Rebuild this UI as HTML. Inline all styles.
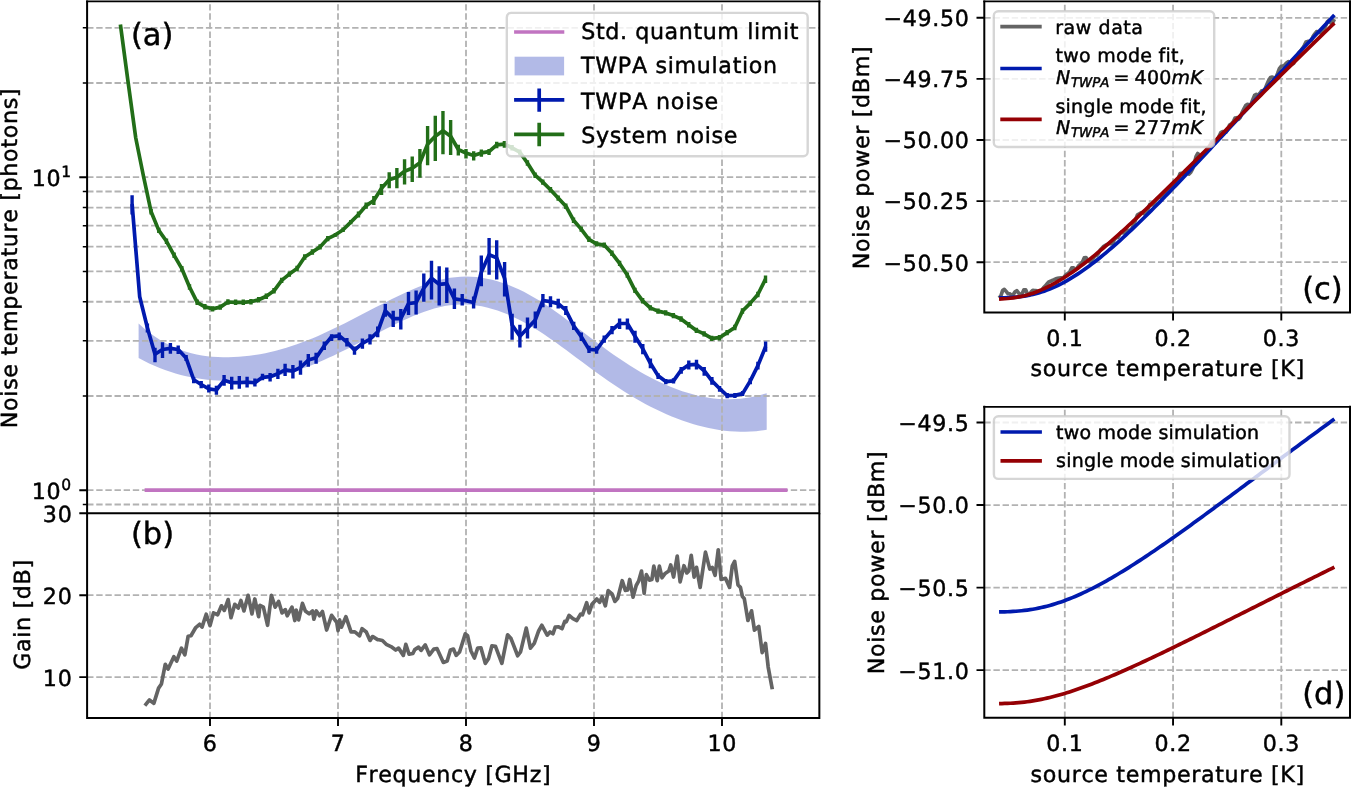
<!DOCTYPE html>
<html lang="en"><head><meta charset="utf-8"><title>TWPA noise temperature</title>
<style>html,body{margin:0;padding:0;background:#fff}body{width:1351px;height:787px;overflow:hidden}svg{display:block}text{font-kerning:none;text-rendering:geometricPrecision}</style>
</head><body>
<svg width="1351" height="787" viewBox="0 0 1351 787">
<path d="M138.6 323.58 L143.88 328.23 L149.16 332.46 L154.43 336.29 L159.71 339.73 L164.99 342.81 L170.27 345.54 L175.55 347.93 L180.83 350 L186.1 351.78 L191.38 353.28 L196.66 354.5 L201.94 355.49 L207.22 356.24 L212.49 356.77 L217.77 357.11 L223.05 357.27 L228.33 357.27 L233.61 357.11 L238.88 356.81 L244.16 356.36 L249.44 355.76 L254.72 355.03 L260 354.15 L265.28 353.14 L270.55 351.99 L275.83 350.7 L281.11 349.29 L286.39 347.74 L291.67 346.07 L296.94 344.27 L302.22 342.35 L307.5 340.31 L312.78 338.16 L318.06 335.9 L323.34 333.55 L328.61 331.11 L333.89 328.6 L339.17 326.03 L344.45 323.4 L349.73 320.74 L355 318.04 L360.28 315.31 L365.56 312.58 L370.84 309.84 L376.12 307.11 L381.39 304.4 L386.67 301.71 L391.95 299.07 L397.23 296.47 L402.51 293.96 L407.79 291.53 L413.06 289.22 L418.34 287.04 L423.62 285.01 L428.9 283.16 L434.18 281.49 L439.45 280.04 L444.73 278.82 L450.01 277.85 L455.29 277.14 L460.57 276.72 L465.85 276.58 L471.12 276.71 L476.4 277.11 L481.68 277.77 L486.96 278.69 L492.24 279.86 L497.51 281.28 L502.79 282.94 L508.07 284.83 L513.35 286.95 L518.63 289.3 L523.91 291.87 L529.18 294.65 L534.46 297.63 L539.74 300.83 L545.02 304.21 L550.3 307.76 L555.57 311.46 L560.85 315.27 L566.13 319.18 L571.41 323.16 L576.69 327.18 L581.96 331.21 L587.24 335.25 L592.52 339.25 L597.8 343.21 L603.08 347.12 L608.36 350.95 L613.63 354.7 L618.91 358.34 L624.19 361.86 L629.47 365.26 L634.75 368.52 L640.02 371.65 L645.3 374.64 L650.58 377.48 L655.86 380.17 L661.14 382.71 L666.42 385.08 L671.69 387.29 L676.97 389.33 L682.25 391.19 L687.53 392.87 L692.81 394.37 L698.08 395.67 L703.36 396.78 L708.64 397.69 L713.92 398.4 L719.2 398.9 L724.47 399.18 L729.75 399.25 L735.03 399.08 L740.31 398.69 L745.59 398.07 L750.87 397.21 L756.14 396.1 L761.42 394.75 L766.7 393.14 L766.7 429.84 L761.42 430.59 L756.14 431.14 L750.87 431.51 L745.59 431.69 L740.31 431.7 L735.03 431.52 L729.75 431.17 L724.47 430.64 L719.2 429.94 L713.92 429.08 L708.64 428.05 L703.36 426.86 L698.08 425.51 L692.81 424.01 L687.53 422.35 L682.25 420.54 L676.97 418.58 L671.69 416.48 L666.42 414.23 L661.14 411.85 L655.86 409.33 L650.58 406.67 L645.3 403.88 L640.02 400.97 L634.75 397.92 L629.47 394.76 L624.19 391.47 L618.91 388.07 L613.63 384.56 L608.36 380.95 L603.08 377.25 L597.8 373.47 L592.52 369.64 L587.24 365.75 L581.96 361.83 L576.69 357.88 L571.41 353.94 L566.13 350.02 L560.85 346.15 L555.57 342.35 L550.3 338.64 L545.02 335.05 L539.74 331.59 L534.46 328.3 L529.18 325.17 L523.91 322.23 L518.63 319.48 L513.35 316.93 L508.07 314.59 L502.79 312.46 L497.51 310.57 L492.24 308.9 L486.96 307.49 L481.68 306.33 L476.4 305.43 L471.12 304.8 L465.85 304.46 L460.57 304.41 L455.29 304.65 L450.01 305.21 L444.73 306.05 L439.45 307.17 L434.18 308.54 L428.9 310.14 L423.62 311.95 L418.34 313.94 L413.06 316.09 L407.79 318.39 L402.51 320.81 L397.23 323.33 L391.95 325.93 L386.67 328.59 L381.39 331.28 L376.12 334.01 L370.84 336.74 L365.56 339.49 L360.28 342.22 L355 344.94 L349.73 347.63 L344.45 350.27 L339.17 352.86 L333.89 355.39 L328.61 357.84 L323.34 360.21 L318.06 362.47 L312.78 364.63 L307.5 366.66 L302.22 368.56 L296.94 370.32 L291.67 371.94 L286.39 373.42 L281.11 374.76 L275.83 375.97 L270.55 377.04 L265.28 377.98 L260 378.78 L254.72 379.45 L249.44 379.99 L244.16 380.4 L238.88 380.68 L233.61 380.83 L228.33 380.86 L223.05 380.75 L217.77 380.52 L212.49 380.16 L207.22 379.66 L201.94 379.02 L196.66 378.23 L191.38 377.29 L186.1 376.18 L180.83 374.91 L175.55 373.46 L170.27 371.83 L164.99 370.01 L159.71 368 L154.43 365.79 L149.16 363.38 L143.88 360.75 L138.6 357.91Z" fill="#001aae" fill-opacity="0.3" stroke="none"/>
<g stroke="#b2b2b2" stroke-width="1.8" stroke-dasharray="6.385 2.754" fill="none">
<line x1="87.1" x2="819.35" y1="504.52" y2="504.52"/>
<line x1="87.1" x2="819.35" y1="490.2" y2="490.2"/>
<line x1="87.1" x2="819.35" y1="395.98" y2="395.98"/>
<line x1="87.1" x2="819.35" y1="340.86" y2="340.86"/>
<line x1="87.1" x2="819.35" y1="301.76" y2="301.76"/>
<line x1="87.1" x2="819.35" y1="271.42" y2="271.42"/>
<line x1="87.1" x2="819.35" y1="246.64" y2="246.64"/>
<line x1="87.1" x2="819.35" y1="225.68" y2="225.68"/>
<line x1="87.1" x2="819.35" y1="207.53" y2="207.53"/>
<line x1="87.1" x2="819.35" y1="191.52" y2="191.52"/>
<line x1="87.1" x2="819.35" y1="177.2" y2="177.2"/>
<line x1="87.1" x2="819.35" y1="82.98" y2="82.98"/>
<line x1="87.1" x2="819.35" y1="27.86" y2="27.86"/>
<line x1="210" x2="210" y1="513.2" y2="1.3"/>
<line x1="210" x2="210" y1="718.1" y2="513.2"/>
<line x1="338" x2="338" y1="513.2" y2="1.3"/>
<line x1="338" x2="338" y1="718.1" y2="513.2"/>
<line x1="466" x2="466" y1="513.2" y2="1.3"/>
<line x1="466" x2="466" y1="718.1" y2="513.2"/>
<line x1="594" x2="594" y1="513.2" y2="1.3"/>
<line x1="594" x2="594" y1="718.1" y2="513.2"/>
<line x1="722" x2="722" y1="513.2" y2="1.3"/>
<line x1="722" x2="722" y1="718.1" y2="513.2"/>
<line x1="87.1" x2="819.35" y1="595.2" y2="595.2"/>
<line x1="87.1" x2="819.35" y1="677.1" y2="677.1"/>
</g>
<clipPath id="ca"><rect x="87.1" y="1.3" width="732.25" height="511.9"/></clipPath>
<g clip-path="url(#ca)">
<line x1="144.6" x2="787.5" y1="490.2" y2="490.2" stroke="#c174c1" stroke-width="3.7"/>
<g stroke="#001aae" stroke-width="3.7" fill="none" stroke-linejoin="round">
<path d="M132.1 204 L139.7 296.8 L147.4 327.8 L155 354.3 L162.5 349.5 L170.4 348.3 L178.2 349.5 L186.1 358 L193.7 379.7 L201.2 384.5 L208.8 388.8 L216.4 390 L224.1 380.3 L231.7 382.7 L239.3 382.7 L247.1 382.1 L254.9 382.7 L262.5 377.3 L270.1 376.7 L277.9 373.7 L285.1 369.9 L292.9 371.1 L300.5 367.5 L308.3 360.1 L316.1 357.7 L324.3 345.7 L331.6 336.7 L339.2 335.8 L346.9 342.1 L354.5 350 L362.4 343.3 L370 339.1 L377.7 331.9 L385.3 310.7 L393.2 318.6 L400.8 318.6 L408.5 303.5 L416.1 302.7 L423.8 288 L431.5 278.3 L439.2 284.3 L446.8 283.7 L454.4 298.8 L462.2 300 L473.6 302.5 L481.3 272.3 L489.1 254.8 L496.7 257.8 L504.6 278.3 L512.1 325 L519.9 336.2 L527.5 328.3 L535.3 319.9 L542.9 300.5 L550.5 301.7 L558.2 303.6 L565.8 310.2 L573.7 325.9 L581.3 336.8 L589 349.4 L596.6 350 L604.2 339.2 L612 330.1 L619.6 323.5 L627.4 323.5 L635 336.2 L642.8 348.8 L650.4 363.3 L658.1 375.8 L665.8 381.6 L673.5 380.9 L681.2 370 L688.8 364.9 L696.5 364.4 L704.2 370.7 L711.9 380.9 L719.6 388.5 L727.2 395.6 L734.9 395.4 L742.6 393.6 L750.3 380.9 L757.9 365.6 L765.6 346.6"/>
<path stroke-width="3.4" d="M132.1 195.3V214.5M147.4 323.5V332.6M155 347.7V362.2M162.5 342.3V358M170.4 342.9V353.7M178.2 345.6V354.1M186.1 355V361M193.7 377.3V383.3M201.2 380.9V388.2M208.8 384.5V392.4M216.4 385.7V394.8M224.1 374.9V385.7M231.7 376.7V389.4M239.3 376.1V388.8M247.1 376.7V387.6M254.9 378.5V386.4M262.5 373.7V380.3M270.1 373.1V381.5M277.9 368.8V379.1M285.1 363.8V376M292.9 365V378.5M300.5 360.6V374.8M308.3 354V366.7M316.1 352.8V363.8M324.3 341.5V350M331.6 334.3V340.9M339.2 332.5V340.3M346.9 337.9V346.4M354.5 346.4V354.8M362.4 338.5V348.8M370 334.3V344.5M377.7 326.4V337.3M385.3 304.1V316.8M393.2 310.7V327M400.8 308.9V329.4M408.5 292V315M416.1 290.6V314.5M423.8 273.4V301.8M431.5 260.8V299.4M439.2 266.2V305.5M446.8 267.4V303.1M454.4 288.6V309.1M462.2 294V305.5M473.6 296.4V308.5M481.3 255.4V286.2M489.1 237.9V274.7M496.7 240.3V279.5M504.6 262V296.4M512.1 313.8V339.8M519.9 324.7V347.6M527.5 317.4V338.6M535.3 311.4V328.3M542.9 293.9V307.2M550.5 296.3V307.2M558.2 298.7V308.4M565.8 306V315M573.7 321.7V330.1M581.3 332.5V341M589 345.8V353.1M596.6 346.4V353.7M604.2 335.6V342.8M612 325.9V334.3M619.6 318.6V328.9M627.4 318.6V329.5M635 330.7V342.8M642.8 344V354.3M650.4 358.5V368.2M658.1 373.3V379.1M665.8 379.1V384.2M673.5 378.3V383.4M681.2 366.9V373.8M688.8 360.5V369.4M696.5 359.8V369.4M704.2 366.9V375.8M711.9 377.1V384.7M719.6 386V391.8M727.2 393.1V398.2M734.9 393.1V397.9M742.6 391V396.1M750.3 378.3V384.2M757.9 361.8V369.4M765.6 341.5V351.7"/>
</g>
<g stroke="#226e18" stroke-width="3.7" fill="none" stroke-linejoin="round">
<path d="M120.4 24.5 L128.08 82 L135.76 138 L143.44 176 L151.12 211.8 L158.8 230.4 L166.48 241.3 L174.16 255.3 L181.84 268.7 L189.52 287 L197.2 302.3 L204.88 306.8 L212.56 308.9 L220.24 307.1 L227.92 302 L235.6 302.3 L243.28 302.3 L250.96 301.7 L258.64 299.7 L266.32 296.2 L274 290.8 L281.68 280.4 L289.36 274.1 L297.04 268.5 L304.72 257 L312.4 252 L320.08 246.9 L327.76 238.6 L335.44 234.8 L343.12 229.7 L350.8 222.1 L358.48 214.5 L366.16 205.6 L373.84 200.5 L381.52 188.2 L389.2 179.7 L396.88 177.3 L404.56 171.3 L412.24 168.2 L419.92 162.8 L427.6 144.1 L435.28 136.2 L442.96 130.8 L450.64 136.2 L458.32 149.5 L466 153.1 L473.68 155.6 L481.36 152.9 L489.04 151.7 L496.72 144.9 L504.4 144.2 L512.08 147.8 L519.76 152.1 L527.44 163 L535.12 175.2 L542.8 182.1 L550.48 189.7 L558.16 198.1 L565.84 206.2 L573.52 220.2 L581.2 229.1 L588.88 239.3 L596.56 243.9 L604.24 245.1 L611.92 253.3 L619.6 263.4 L627.28 275.1 L634.96 290.4 L642.64 300.8 L650.32 307.9 L658 311.1 L665.68 312.9 L673.36 315.6 L681.04 319 L688.72 324.7 L696.4 330.4 L704.08 333.9 L711.76 338.4 L719.44 337.7 L727.12 332.6 L734.8 327.5 L742.48 311 L750.16 303.4 L757.84 294.5 L765.52 279.2"/>
<path stroke-width="3.4" d="M151.12 209.1V214.5M158.8 227.7V233.1M166.48 238.6V244M174.16 252.6V258M181.84 266V271.4M189.52 284.3V289.7M197.2 299.6V305M204.88 304.1V309.5M212.56 306.2V311.6M220.24 304.4V309.8M227.92 299.3V304.7M235.6 299.6V305M243.28 299.6V305M250.96 299V304.4M258.64 297V302.4M266.32 293.5V298.9M274 288.1V293.5M281.68 277.7V283.1M289.36 271.4V276.8M297.04 265.8V271.2M304.72 254.3V259.7M312.4 249.3V254.7M320.08 244.2V249.6M327.76 235.9V241.3M335.44 233V236.8M343.12 227.5V232M350.8 220V224.3M358.48 211.4V217.6M366.16 202.5V208.7M373.84 195.9V205.1M381.52 184V195M389.2 172.2V188.2M396.88 167.9V188.2M404.56 159.2V184.5M412.24 156.5V181.9M419.92 148.9V177.7M427.6 126V165.2M435.28 115.7V161M442.96 110.9V154.3M450.64 119.9V155M458.32 144.7V155.6M466 148.9V158.6M473.68 151.3V160.4M481.36 149.5V156.8M489.04 148.9V155M496.72 141.7V148.3M504.4 141.1V147.7M512.08 145.1V150.5M519.76 149.4V154.8M527.44 160.3V165.7M535.12 172.5V177.9M542.8 179.4V184.8M550.48 187V192.4M558.16 195.4V200.8M565.84 203.5V208.9M573.52 217.5V222.9M581.2 226.4V231.8M588.88 236.6V242M596.56 241.2V246.6M604.24 242.4V247.8M611.92 250.6V256M619.6 260.7V266.1M627.28 272.4V277.8M634.96 287.7V293.1M642.64 298.1V303.5M650.32 305.2V310.6M658 308.4V313.8M665.68 310.2V315.6M673.36 312.9V318.3M681.04 316.3V321.7M688.72 322V327.4M696.4 327.7V333.1M704.08 331.2V336.6M711.76 335.7V341.1M719.44 335V340.4M727.12 329.9V335.3M734.8 324.8V330.2M742.48 308.3V313.7M750.16 300.7V306.1M757.84 291.8V297.2M765.52 275.4V283"/>
</g>
</g>
<path d="M144.86 705.67 L149.44 699.95 L153.82 703.38 L158.58 688.14 L161.44 683.95 L165.25 664.32 L168.11 669.09 L173.83 656.7 L176.68 661.08 L181.45 648.12 L184.88 654.79 L188.12 636.31 L190.98 635.74 L195.74 627.55 L199.55 624.31 L202.03 627.16 L206.22 614.21 L210.03 625.64 L213.46 612.87 L217.65 614.78 L221.46 605.82 L224.32 610.4 L228.13 599.54 L230.99 617.64 L234.8 604.3 L238.23 608.11 L240.9 600.49 L243.95 610.97 L248.14 595.34 L251.95 613.83 L254.81 598.96 L258.62 616.68 L259.95 605.25 L263.38 607.16 L267.58 625.26 L271.39 595.34 L275.2 607.16 L278.63 601.44 L282.06 612.87 L285.3 609.63 L287.2 615.73 L291.97 607.16 L294.82 620.5 L296.16 610.02 L298.64 619.92 L302.45 603.35 L305.3 610.97 L309.12 613.83 L312.55 610.97 L313.88 619.16 L316.36 610.97 L319.6 615.73 L322.45 611.54 L326.65 630.02 L331.6 615.35 L336.75 622.4 L338.08 630.59 L339.6 619.92 L341.51 627.16 L345.89 616.68 L351.04 631.93 L354.85 631.93 L359.61 635.74 L362.09 628.69 L366.28 631.93 L370 640.5 L370.09 640.5 L372.38 636.69 L372.86 636.69 L377.62 639.55 L377.71 639.55 L382.39 640.5 L386.2 644.31 L390.96 646.6 L395.72 650.03 L398.58 648.12 L403.35 655.37 L405.82 644.31 L409.06 654.22 L412.87 653.46 L414.78 649.65 L418.59 647.17 L421.07 650.41 L425.26 644.89 L429.45 654.79 L433.83 649.08 L437.07 648.7 L443.36 662.42 L447.17 661.08 L450.41 650.03 L453.46 649.08 L456.13 655.37 L459.56 651.94 L465.27 633.83 L467.56 635.74 L470.99 650.98 L474.42 658.03 L477.66 648.12 L480.9 647.74 L485.28 663.37 L488.52 658.61 L491.95 645.84 L495.38 646.22 L501.86 663.37 L507.58 634.79 L511.01 638.6 L517.68 655.75 L520.53 651.94 L526.25 628.12 L530.44 648.12 L534.25 643.36 L538.64 630.98 L541.88 625.26 L547.21 635.17 L550.07 631.93 L552.93 633.83 L555.21 627.16 L558.64 626.78 L562.07 628.69 L564.74 621.45 L566.27 621.83 L569.12 615.35 L572.93 618.59 L576.75 620.5 L580.56 614.21 L582.46 614.78 L586.65 602.77 L589.13 612.87 L591.99 604.3 L596.75 598.96 L599.61 602.39 L602.09 596.68 L605.33 605.82 L608.19 590.58 L612 593.82 L614.86 601.44 L617.71 598.2 L622.2 580.68 L625.34 590.33 L627.75 589.85 L629.68 579.47 L633.06 597.08 L636.2 585.5 L638.61 581.16 L641.51 571.02 L644.16 593.22 L646.33 574.64 L649.47 580.19 L651.88 579.47 L653.81 566.2 L657.19 580.68 L659.36 566.2 L662.02 577.78 L665.15 573.44 L668.77 571.02 L670.7 564.99 L673.6 577.06 L677.22 556.06 L680.12 581.88 L683.98 565.71 L686.87 572.95 L688.8 571.02 L691.22 555.34 L694.11 577.06 L696.53 567.4 L700.14 587.43 L705.45 552.2 L709.8 569.09 L712.21 567.4 L715.11 575.37 L718.24 549.79 L721.14 579.47 L725.48 578.26 L729.58 587.43 L732.24 566.2 L734.65 561.37 L738.03 585.02 L740.44 587.43 L742.37 596.36 L744.31 598.77 L747.92 620.49 L751.54 610.84 L754.44 630.14 L758.78 626.53 L762.16 652.59 L765.54 643.42 L768.19 667.07 L772.3 689.27" stroke="#646464" stroke-width="3.7" fill="none" stroke-linejoin="round"/>
<g stroke="#b2b2b2" stroke-width="1.8" stroke-dasharray="6.385 2.754" fill="none">
<line x1="984.3" x2="1350" y1="17.8" y2="17.8"/>
<line x1="984.3" x2="1350" y1="78.9" y2="78.9"/>
<line x1="984.3" x2="1350" y1="140" y2="140"/>
<line x1="984.3" x2="1350" y1="201.1" y2="201.1"/>
<line x1="984.3" x2="1350" y1="262.2" y2="262.2"/>
<line x1="984.3" x2="1350" y1="422.5" y2="422.5"/>
<line x1="984.3" x2="1350" y1="505.05" y2="505.05"/>
<line x1="984.3" x2="1350" y1="587.6" y2="587.6"/>
<line x1="984.3" x2="1350" y1="670.15" y2="670.15"/>
<line x1="1064.8" x2="1064.8" y1="312.6" y2="1.3"/>
<line x1="1064.8" x2="1064.8" y1="717.8" y2="406.7"/>
<line x1="1173.05" x2="1173.05" y1="312.6" y2="1.3"/>
<line x1="1173.05" x2="1173.05" y1="717.8" y2="406.7"/>
<line x1="1281.3" x2="1281.3" y1="312.6" y2="1.3"/>
<line x1="1281.3" x2="1281.3" y1="717.8" y2="406.7"/>
</g>
<path d="M999.05 298.03 L1000.82 295.99 L1002.6 290.62 L1004.37 289.37 L1006.15 291.38 L1007.92 293.59 L1009.69 293.73 L1011.47 295.11 L1013.24 294.45 L1015.02 291.84 L1016.79 290.75 L1018.57 292.93 L1020.34 295.23 L1022.12 293.77 L1023.89 289.89 L1025.66 289.78 L1027.44 294 L1029.21 295.36 L1030.99 291.99 L1032.76 290.37 L1034.54 290.67 L1036.31 290.68 L1038.08 291.26 L1039.86 292.23 L1041.63 290.05 L1043.41 287.91 L1045.18 286.11 L1046.96 284.03 L1048.73 281.99 L1050.5 281.37 L1052.28 280.37 L1054.05 279.72 L1055.83 278.78 L1057.6 278.34 L1059.38 277.97 L1061.15 277.73 L1062.92 278.4 L1064.7 276.21 L1066.47 274.24 L1068.25 273.24 L1070.02 271.43 L1071.8 267.87 L1073.57 267.87 L1075.34 269.62 L1077.12 268.08 L1078.89 265.52 L1080.67 264.08 L1082.44 262.04 L1084.22 257.85 L1085.99 257.51 L1087.77 260.29 L1089.54 261.74 L1091.31 260.63 L1093.09 258.55 L1094.86 255.96 L1096.64 255.2 L1098.41 253.17 L1100.19 250.06 L1101.96 248.22 L1103.73 246.36 L1105.51 245.31 L1107.28 244.57 L1109.06 243.46 L1110.83 243.55 L1112.61 243.67 L1114.38 239.58 L1116.15 237.64 L1117.93 237.38 L1119.7 234.16 L1121.48 231.92 L1123.25 232.93 L1125.03 232.61 L1126.8 231.04 L1128.57 230.43 L1130.35 230.07 L1132.12 228.45 L1133.9 224.1 L1135.67 219.49 L1137.45 214.85 L1139.22 213.94 L1141 212.79 L1142.77 212.62 L1144.54 214.21 L1146.32 214.1 L1148.09 208.49 L1149.87 204.31 L1151.64 204.98 L1153.42 203.98 L1155.19 201.47 L1156.96 198.67 L1158.74 197.39 L1160.51 197.53 L1162.29 196.37 L1164.06 193.42 L1165.84 191.21 L1167.61 191.76 L1169.38 188.86 L1171.16 186.6 L1172.93 186.04 L1174.71 186.23 L1176.48 183.44 L1178.26 178.56 L1180.03 173.68 L1181.8 173.4 L1183.58 174.54 L1185.35 172.82 L1187.13 172.04 L1188.9 174.02 L1190.68 172.45 L1192.45 169.15 L1194.22 163.71 L1196 156.68 L1197.77 153.5 L1199.55 155.73 L1201.32 156.14 L1203.1 154.44 L1204.87 152.72 L1206.65 150.54 L1208.42 148.78 L1210.19 144.84 L1211.97 141.23 L1213.74 140.64 L1215.52 142.72 L1217.29 140.43 L1219.07 136.27 L1220.84 132.54 L1222.61 131.54 L1224.39 131.82 L1226.16 132.17 L1227.94 129 L1229.71 124.76 L1231.49 123.78 L1233.26 121.73 L1235.03 118.12 L1236.81 117.68 L1238.58 119.28 L1240.36 117.19 L1242.13 112.3 L1243.91 108.94 L1245.68 105.53 L1247.45 104.35 L1249.23 104.71 L1251 104.35 L1252.78 99.64 L1254.55 95.44 L1256.33 94.38 L1258.1 95.16 L1259.87 93.31 L1261.65 90.84 L1263.42 90.43 L1265.2 88.6 L1266.97 84.31 L1268.75 80.35 L1270.52 77.62 L1272.3 77.07 L1274.07 78.16 L1275.84 77.8 L1277.62 73.44 L1279.39 68.61 L1281.17 66.3 L1282.94 65.98 L1284.72 65.19 L1286.49 62.91 L1288.26 61.68 L1290.04 62.71 L1291.81 64.26 L1293.59 63.41 L1295.36 59.65 L1297.14 56.05 L1298.91 52.54 L1300.68 50.86 L1302.46 48.48 L1304.23 45.67 L1306.01 41.98 L1307.78 41.38 L1309.56 41.48 L1311.33 40.4 L1313.1 36.41 L1314.88 33.86 L1316.65 31.57 L1318.43 32.26 L1320.2 32.73 L1321.98 32.25 L1323.75 29.34 L1325.52 26.15 L1327.3 21.83 L1329.07 20.29 L1330.85 23.1 L1332.62 22.71 L1334.4 19.12" stroke="#646464" stroke-width="3.7" fill="none" stroke-linejoin="round"/>
<path d="M999.05 297.86 L1001.87 297.82 L1004.69 297.75 L1007.5 297.65 L1010.32 297.52 L1013.14 297.34 L1015.96 297.12 L1018.78 296.84 L1021.59 296.5 L1024.41 296.09 L1027.23 295.61 L1030.05 295.06 L1032.87 294.44 L1035.68 293.74 L1038.5 292.95 L1041.32 292.09 L1044.14 291.15 L1046.96 290.12 L1049.77 289.02 L1052.59 287.83 L1055.41 286.57 L1058.23 285.23 L1061.05 283.82 L1063.86 282.33 L1066.68 280.77 L1069.5 279.14 L1072.32 277.44 L1075.14 275.68 L1077.95 273.85 L1080.77 271.96 L1083.59 270.02 L1086.41 268.01 L1089.23 265.95 L1092.04 263.84 L1094.86 261.68 L1097.68 259.47 L1100.5 257.21 L1103.32 254.91 L1106.13 252.57 L1108.95 250.19 L1111.77 247.76 L1114.59 245.3 L1117.41 242.81 L1120.23 240.28 L1123.04 237.71 L1125.86 235.12 L1128.68 232.5 L1131.5 229.85 L1134.32 227.17 L1137.13 224.47 L1139.95 221.74 L1142.77 218.99 L1145.59 216.22 L1148.41 213.43 L1151.22 210.62 L1154.04 207.79 L1156.86 204.95 L1159.68 202.09 L1162.5 199.21 L1165.31 196.31 L1168.13 193.41 L1170.95 190.49 L1173.77 187.56 L1176.59 184.61 L1179.4 181.66 L1182.22 178.69 L1185.04 175.72 L1187.86 172.74 L1190.68 169.75 L1193.49 166.75 L1196.31 163.74 L1199.13 160.73 L1201.95 157.71 L1204.77 154.69 L1207.58 151.66 L1210.4 148.62 L1213.22 145.59 L1216.04 142.54 L1218.86 139.5 L1221.67 136.45 L1224.49 133.4 L1227.31 130.35 L1230.13 127.29 L1232.95 124.23 L1235.76 121.18 L1238.58 118.12 L1241.4 115.06 L1244.22 112 L1247.04 108.94 L1249.86 105.88 L1252.67 102.82 L1255.49 99.76 L1258.31 96.7 L1261.13 93.64 L1263.95 90.58 L1266.76 87.53 L1269.58 84.48 L1272.4 81.42 L1275.22 78.37 L1278.04 75.33 L1280.85 72.28 L1283.67 69.24 L1286.49 66.2 L1289.31 63.16 L1292.13 60.12 L1294.94 57.09 L1297.76 54.06 L1300.58 51.04 L1303.4 48.02 L1306.22 45 L1309.03 41.98 L1311.85 38.97 L1314.67 35.96 L1317.49 32.96 L1320.31 29.96 L1323.12 26.97 L1325.94 23.97 L1328.76 20.99 L1331.58 18 L1334.4 15.02" stroke="#001aae" stroke-width="3.7" fill="none"/>
<path d="M999.05 299.03 L1001.87 298.91 L1004.69 298.74 L1007.5 298.52 L1010.32 298.23 L1013.14 297.88 L1015.96 297.45 L1018.78 296.94 L1021.59 296.36 L1024.41 295.69 L1027.23 294.93 L1030.05 294.09 L1032.87 293.17 L1035.68 292.15 L1038.5 291.06 L1041.32 289.88 L1044.14 288.62 L1046.96 287.29 L1049.77 285.88 L1052.59 284.39 L1055.41 282.83 L1058.23 281.21 L1061.05 279.52 L1063.86 277.77 L1066.68 275.95 L1069.5 274.08 L1072.32 272.16 L1075.14 270.18 L1077.95 268.15 L1080.77 266.08 L1083.59 263.96 L1086.41 261.79 L1089.23 259.59 L1092.04 257.35 L1094.86 255.07 L1097.68 252.75 L1100.5 250.4 L1103.32 248.02 L1106.13 245.61 L1108.95 243.17 L1111.77 240.71 L1114.59 238.22 L1117.41 235.71 L1120.23 233.17 L1123.04 230.61 L1125.86 228.04 L1128.68 225.44 L1131.5 222.83 L1134.32 220.19 L1137.13 217.55 L1139.95 214.89 L1142.77 212.21 L1145.59 209.52 L1148.41 206.82 L1151.22 204.11 L1154.04 201.39 L1156.86 198.66 L1159.68 195.91 L1162.5 193.16 L1165.31 190.4 L1168.13 187.64 L1170.95 184.87 L1173.77 182.09 L1176.59 179.3 L1179.4 176.51 L1182.22 173.72 L1185.04 170.92 L1187.86 168.11 L1190.68 165.3 L1193.49 162.49 L1196.31 159.68 L1199.13 156.86 L1201.95 154.05 L1204.77 151.23 L1207.58 148.41 L1210.4 145.58 L1213.22 142.76 L1216.04 139.94 L1218.86 137.11 L1221.67 134.29 L1224.49 131.46 L1227.31 128.64 L1230.13 125.82 L1232.95 122.99 L1235.76 120.17 L1238.58 117.35 L1241.4 114.53 L1244.22 111.71 L1247.04 108.9 L1249.86 106.08 L1252.67 103.27 L1255.49 100.46 L1258.31 97.65 L1261.13 94.85 L1263.95 92.04 L1266.76 89.24 L1269.58 86.45 L1272.4 83.65 L1275.22 80.86 L1278.04 78.07 L1280.85 75.28 L1283.67 72.5 L1286.49 69.72 L1289.31 66.95 L1292.13 64.18 L1294.94 61.41 L1297.76 58.64 L1300.58 55.88 L1303.4 53.13 L1306.22 50.37 L1309.03 47.62 L1311.85 44.88 L1314.67 42.14 L1317.49 39.4 L1320.31 36.67 L1323.12 33.94 L1325.94 31.22 L1328.76 28.5 L1331.58 25.78 L1334.4 23.07" stroke="#950004" stroke-width="3.7" fill="none"/>
<path d="M999.05 611.95 L1001.87 611.9 L1004.69 611.83 L1007.5 611.73 L1010.32 611.61 L1013.14 611.45 L1015.96 611.26 L1018.78 611.03 L1021.59 610.76 L1024.41 610.45 L1027.23 610.09 L1030.05 609.68 L1032.87 609.22 L1035.68 608.72 L1038.5 608.16 L1041.32 607.56 L1044.14 606.9 L1046.96 606.19 L1049.77 605.43 L1052.59 604.62 L1055.41 603.77 L1058.23 602.86 L1061.05 601.91 L1063.86 600.9 L1066.68 599.86 L1069.5 598.76 L1072.32 597.63 L1075.14 596.45 L1077.95 595.23 L1080.77 593.97 L1083.59 592.67 L1086.41 591.33 L1089.23 589.96 L1092.04 588.55 L1094.86 587.11 L1097.68 585.63 L1100.5 584.12 L1103.32 582.59 L1106.13 581.02 L1108.95 579.43 L1111.77 577.81 L1114.59 576.16 L1117.41 574.49 L1120.23 572.79 L1123.04 571.07 L1125.86 569.33 L1128.68 567.57 L1131.5 565.79 L1134.32 563.99 L1137.13 562.17 L1139.95 560.34 L1142.77 558.49 L1145.59 556.62 L1148.41 554.74 L1151.22 552.84 L1154.04 550.93 L1156.86 549 L1159.68 547.07 L1162.5 545.12 L1165.31 543.16 L1168.13 541.19 L1170.95 539.22 L1173.77 537.23 L1176.59 535.23 L1179.4 533.22 L1182.22 531.21 L1185.04 529.19 L1187.86 527.16 L1190.68 525.13 L1193.49 523.09 L1196.31 521.04 L1199.13 518.99 L1201.95 516.93 L1204.77 514.87 L1207.58 512.8 L1210.4 510.73 L1213.22 508.66 L1216.04 506.58 L1218.86 504.5 L1221.67 502.42 L1224.49 500.34 L1227.31 498.25 L1230.13 496.16 L1232.95 494.07 L1235.76 491.97 L1238.58 489.88 L1241.4 487.78 L1244.22 485.69 L1247.04 483.59 L1249.86 481.49 L1252.67 479.4 L1255.49 477.3 L1258.31 475.2 L1261.13 473.1 L1263.95 471 L1266.76 468.91 L1269.58 466.81 L1272.4 464.72 L1275.22 462.62 L1278.04 460.53 L1280.85 458.43 L1283.67 456.34 L1286.49 454.25 L1289.31 452.16 L1292.13 450.08 L1294.94 447.99 L1297.76 445.91 L1300.58 443.83 L1303.4 441.75 L1306.22 439.67 L1309.03 437.6 L1311.85 435.52 L1314.67 433.45 L1317.49 431.39 L1320.31 429.32 L1323.12 427.26 L1325.94 425.2 L1328.76 423.14 L1331.58 421.08 L1334.4 419.03" stroke="#001aae" stroke-width="3.7" fill="none"/>
<path d="M999.05 703.59 L1001.87 703.54 L1004.69 703.46 L1007.5 703.36 L1010.32 703.23 L1013.14 703.07 L1015.96 702.88 L1018.78 702.65 L1021.59 702.38 L1024.41 702.07 L1027.23 701.72 L1030.05 701.33 L1032.87 700.9 L1035.68 700.43 L1038.5 699.92 L1041.32 699.37 L1044.14 698.78 L1046.96 698.15 L1049.77 697.49 L1052.59 696.79 L1055.41 696.05 L1058.23 695.29 L1061.05 694.49 L1063.86 693.66 L1066.68 692.8 L1069.5 691.91 L1072.32 690.99 L1075.14 690.05 L1077.95 689.08 L1080.77 688.09 L1083.59 687.08 L1086.41 686.04 L1089.23 684.99 L1092.04 683.91 L1094.86 682.82 L1097.68 681.7 L1100.5 680.57 L1103.32 679.43 L1106.13 678.26 L1108.95 677.09 L1111.77 675.9 L1114.59 674.69 L1117.41 673.48 L1120.23 672.25 L1123.04 671.01 L1125.86 669.76 L1128.68 668.5 L1131.5 667.22 L1134.32 665.94 L1137.13 664.65 L1139.95 663.36 L1142.77 662.05 L1145.59 660.74 L1148.41 659.42 L1151.22 658.09 L1154.04 656.76 L1156.86 655.42 L1159.68 654.07 L1162.5 652.72 L1165.31 651.36 L1168.13 650 L1170.95 648.64 L1173.77 647.27 L1176.59 645.89 L1179.4 644.52 L1182.22 643.14 L1185.04 641.75 L1187.86 640.36 L1190.68 638.97 L1193.49 637.58 L1196.31 636.19 L1199.13 634.79 L1201.95 633.39 L1204.77 631.99 L1207.58 630.58 L1210.4 629.18 L1213.22 627.77 L1216.04 626.36 L1218.86 624.95 L1221.67 623.54 L1224.49 622.13 L1227.31 620.72 L1230.13 619.3 L1232.95 617.89 L1235.76 616.47 L1238.58 615.06 L1241.4 613.64 L1244.22 612.23 L1247.04 610.81 L1249.86 609.39 L1252.67 607.98 L1255.49 606.56 L1258.31 605.14 L1261.13 603.73 L1263.95 602.31 L1266.76 600.9 L1269.58 599.48 L1272.4 598.07 L1275.22 596.65 L1278.04 595.24 L1280.85 593.83 L1283.67 592.42 L1286.49 591 L1289.31 589.59 L1292.13 588.18 L1294.94 586.77 L1297.76 585.37 L1300.58 583.96 L1303.4 582.55 L1306.22 581.15 L1309.03 579.74 L1311.85 578.34 L1314.67 576.94 L1317.49 575.54 L1320.31 574.14 L1323.12 572.74 L1325.94 571.35 L1328.76 569.95 L1331.58 568.56 L1334.4 567.16" stroke="#950004" stroke-width="3.7" fill="none"/>
<g stroke="#000" fill="none" stroke-linecap="square">
<path d="M87.1 1.38V513.2H819.35V1.38" stroke-width="2.0"/>
<path d="M86.1 1.38H820.35" stroke-width="1.6" stroke-linecap="butt"/>
<path d="M984.3 1.38V312.6H1350V1.38" stroke-width="2.0"/>
<path d="M983.3 1.38H1351" stroke-width="1.6" stroke-linecap="butt"/>
<path d="M984.3 406.75V717.8H1350V406.75" stroke-width="2.0"/>
<path d="M983.3 406.75H1351" stroke-width="1.75" stroke-linecap="butt"/>
<path d="M87.1 513.2V718.1H819.35V513.2" stroke-width="2.0" stroke-linecap="butt"/>
</g>
<g stroke="#000" stroke-width="1.9" fill="none">
<path d="M87.1 490.2h-7.8M87.1 177.2h-7.8M87.1 513.2h-7.8M87.1 595.2h-7.8M87.1 677.1h-7.8M210 718.1v7.8M338 718.1v7.8M466 718.1v7.8M594 718.1v7.8M722 718.1v7.8M984.3 17.8h-7.8M984.3 78.9h-7.8M984.3 140h-7.8M984.3 201.1h-7.8M984.3 262.2h-7.8M984.3 422.5h-7.8M984.3 505.05h-7.8M984.3 587.6h-7.8M984.3 670.15h-7.8M1064.8 312.6v7.8M1064.8 717.8v7.8M1173.05 312.6v7.8M1173.05 717.8v7.8M1281.3 312.6v7.8M1281.3 717.8v7.8"/>
<path d="M87.1 504.52h-4.3M87.1 395.98h-4.3M87.1 340.86h-4.3M87.1 301.76h-4.3M87.1 271.42h-4.3M87.1 246.64h-4.3M87.1 225.68h-4.3M87.1 207.53h-4.3M87.1 191.52h-4.3M87.1 82.98h-4.3M87.1 27.86h-4.3" stroke-width="1.5"/>
</g>
<g font-family='"DejaVu Sans", "Liberation Sans", sans-serif' fill="#000" stroke="#000" stroke-width="0.45">
<text x="61.5" y="185.6" font-size="22.2" text-anchor="end" letter-spacing="0.8">10</text>
<text x="61.3" y="177.4" font-size="15.5" text-anchor="start" letter-spacing="0.46">1</text>
<text x="61.5" y="498.6" font-size="22.2" text-anchor="end" letter-spacing="0.8">10</text>
<text x="61.3" y="490.4" font-size="15.5" text-anchor="start" letter-spacing="0.46">0</text>
<text x="72.45" y="521.95" font-size="22.2" text-anchor="end" letter-spacing="0.67">30</text>
<text x="72.45" y="603.95" font-size="22.2" text-anchor="end" letter-spacing="0.67">20</text>
<text x="72.45" y="685.85" font-size="22.2" text-anchor="end" letter-spacing="0.67">10</text>
<text x="210.2" y="750.8" font-size="22.2" text-anchor="middle" letter-spacing="0.67">6</text>
<text x="338.2" y="750.8" font-size="22.2" text-anchor="middle" letter-spacing="0.67">7</text>
<text x="466.2" y="750.8" font-size="22.2" text-anchor="middle" letter-spacing="0.67">8</text>
<text x="594.2" y="750.8" font-size="22.2" text-anchor="middle" letter-spacing="0.67">9</text>
<text x="722.2" y="750.8" font-size="22.2" text-anchor="middle" letter-spacing="0.67">10</text>
<text x="453.2" y="782.3" font-size="22.2" text-anchor="middle" letter-spacing="0.63">Frequency [GHz]</text>
<text transform="translate(17.3 258.0) rotate(-90)" font-size="22.2" letter-spacing="0.66" text-anchor="middle">Noise temperature [photons]</text>
<text transform="translate(29.9 614.5) rotate(-90)" font-size="22.2" letter-spacing="0.66" text-anchor="middle">Gain [dB]</text>
<text x="130.9" y="45" font-size="30.5" text-anchor="start" letter-spacing="0">(a)</text>
<text x="130.9" y="544.3" font-size="30.5" text-anchor="start" letter-spacing="0">(b)</text>
<text x="969.6" y="26.1" font-size="22.2" text-anchor="end" letter-spacing="0.67">−49.50</text>
<text x="969.6" y="87.2" font-size="22.2" text-anchor="end" letter-spacing="0.67">−49.75</text>
<text x="969.6" y="148.3" font-size="22.2" text-anchor="end" letter-spacing="0.67">−50.00</text>
<text x="969.6" y="209.4" font-size="22.2" text-anchor="end" letter-spacing="0.67">−50.25</text>
<text x="969.6" y="270.5" font-size="22.2" text-anchor="end" letter-spacing="0.67">−50.50</text>
<text x="969.6" y="430.9" font-size="22.2" text-anchor="end" letter-spacing="0.67">−49.5</text>
<text x="969.6" y="513.45" font-size="22.2" text-anchor="end" letter-spacing="0.67">−50.0</text>
<text x="969.6" y="596" font-size="22.2" text-anchor="end" letter-spacing="0.67">−50.5</text>
<text x="969.6" y="678.55" font-size="22.2" text-anchor="end" letter-spacing="0.67">−51.0</text>
<text x="1064.8" y="345.6" font-size="22.2" text-anchor="middle" letter-spacing="0.67">0.1</text>
<text x="1064.8" y="750.8" font-size="22.2" text-anchor="middle" letter-spacing="0.67">0.1</text>
<text x="1173.05" y="345.6" font-size="22.2" text-anchor="middle" letter-spacing="0.67">0.2</text>
<text x="1173.05" y="750.8" font-size="22.2" text-anchor="middle" letter-spacing="0.67">0.2</text>
<text x="1281.3" y="345.6" font-size="22.2" text-anchor="middle" letter-spacing="0.67">0.3</text>
<text x="1281.3" y="750.8" font-size="22.2" text-anchor="middle" letter-spacing="0.67">0.3</text>
<text x="1167.7" y="376.3" font-size="22.2" text-anchor="middle" letter-spacing="0.64">source temperature [K]</text>
<text x="1167.7" y="781.9" font-size="22.2" text-anchor="middle" letter-spacing="0.64">source temperature [K]</text>
<text transform="translate(869.1 157.5) rotate(-90)" font-size="22.2" letter-spacing="0.66" text-anchor="middle">Noise power [dBm]</text>
<text transform="translate(883.6 562.4) rotate(-90)" font-size="22.2" letter-spacing="0.66" text-anchor="middle">Noise power [dBm]</text>
<text x="1302.2" y="298.9" font-size="30.5" text-anchor="start" letter-spacing="0">(c)</text>
<text x="1302.2" y="704" font-size="30.5" text-anchor="start" letter-spacing="0">(d)</text>
</g>
<rect x="506.8" y="12.9" width="300.9" height="143.4" rx="4.5" ry="4.5" fill="#fff" fill-opacity="0.8" stroke="#ccc" stroke-opacity="0.8" stroke-width="2.4"/>
<line x1="514.1" x2="564.3" y1="32" y2="32" stroke="#c174c1" stroke-width="3.7"/>
<rect x="514.6" y="56.7" width="49.5" height="18.7" fill="#001aae" fill-opacity="0.3"/>
<path d="M514.1 99.9H564.3M539.2 88.5V111.8" stroke="#001aae" stroke-width="3.7"/>
<path d="M514.1 134.3H564.3M539.2 122.7V146.2" stroke="#226e18" stroke-width="3.7"/>
<g font-family='"DejaVu Sans", "Liberation Sans", sans-serif' fill="#000" stroke="#000" stroke-width="0.45">
<text x="581.3" y="39.3" font-size="22.2" text-anchor="start" letter-spacing="0.59">Std. quantum limit</text>
<text x="581" y="73.3" font-size="22.2" text-anchor="start" letter-spacing="0.67">TWPA simulation</text>
<text x="581" y="108.6" font-size="22.2" text-anchor="start" letter-spacing="0.78">TWPA noise</text>
<text x="581.3" y="142.8" font-size="22.2" text-anchor="start" letter-spacing="0.67">System noise</text>
</g>
<rect x="993.8" y="11.2" width="220.4" height="135.8" rx="4.5" ry="4.5" fill="#fff" fill-opacity="0.8" stroke="#ccc" stroke-opacity="0.8" stroke-width="2.4"/>
<line x1="1000.3" x2="1041.7" y1="26.6" y2="26.6" stroke="#646464" stroke-width="3.7"/>
<line x1="1000.3" x2="1041.7" y1="68.5" y2="68.5" stroke="#001aae" stroke-width="3.7"/>
<line x1="1000.3" x2="1041.7" y1="119.3" y2="119.3" stroke="#950004" stroke-width="3.7"/>
<g font-family='"DejaVu Sans", "Liberation Sans", sans-serif' fill="#000" stroke="#000" stroke-width="0.45">
<text x="1055.2" y="33.5" font-size="19" text-anchor="start" letter-spacing="0.57">raw data</text>
<text x="1055.5" y="61.9" font-size="19" text-anchor="start" letter-spacing="0.27">two mode fit,</text>
<text y="83.8" font-size="19" letter-spacing="0.3"><tspan x="1056" font-style="italic">N</tspan><tspan x="1071" dy="2.8" font-style="italic" font-size="13.3" letter-spacing="0">TWPA</tspan><tspan x="1113.6" dy="-2.8">=</tspan><tspan x="1134.6">400</tspan><tspan x="1171.5" font-style="italic">mK</tspan></text>
<text x="1055.5" y="112.9" font-size="19" text-anchor="start" letter-spacing="0.22">single mode fit,</text>
<text y="134.3" font-size="19" letter-spacing="0.3"><tspan x="1056" font-style="italic">N</tspan><tspan x="1071" dy="2.8" font-style="italic" font-size="13.3" letter-spacing="0">TWPA</tspan><tspan x="1113.6" dy="-2.8">=</tspan><tspan x="1134.6">277</tspan><tspan x="1171.5" font-style="italic">mK</tspan></text>
</g>
<rect x="993.9" y="416.2" width="295.6" height="62.7" rx="4.5" ry="4.5" fill="#fff" fill-opacity="0.8" stroke="#ccc" stroke-opacity="0.8" stroke-width="2.4"/>
<line x1="1000.5" x2="1041.9" y1="432.0" y2="432.0" stroke="#001aae" stroke-width="3.7"/>
<line x1="1000.5" x2="1041.9" y1="460.9" y2="460.9" stroke="#950004" stroke-width="3.7"/>
<g font-family='"DejaVu Sans", "Liberation Sans", sans-serif' fill="#000" stroke="#000" stroke-width="0.45">
<text x="1056.1" y="438.9" font-size="19" text-anchor="start" letter-spacing="0.19">two mode simulation</text>
<text x="1056.1" y="467.4" font-size="19" text-anchor="start" letter-spacing="0.21">single mode simulation</text>
</g>
</svg>
</body></html>
